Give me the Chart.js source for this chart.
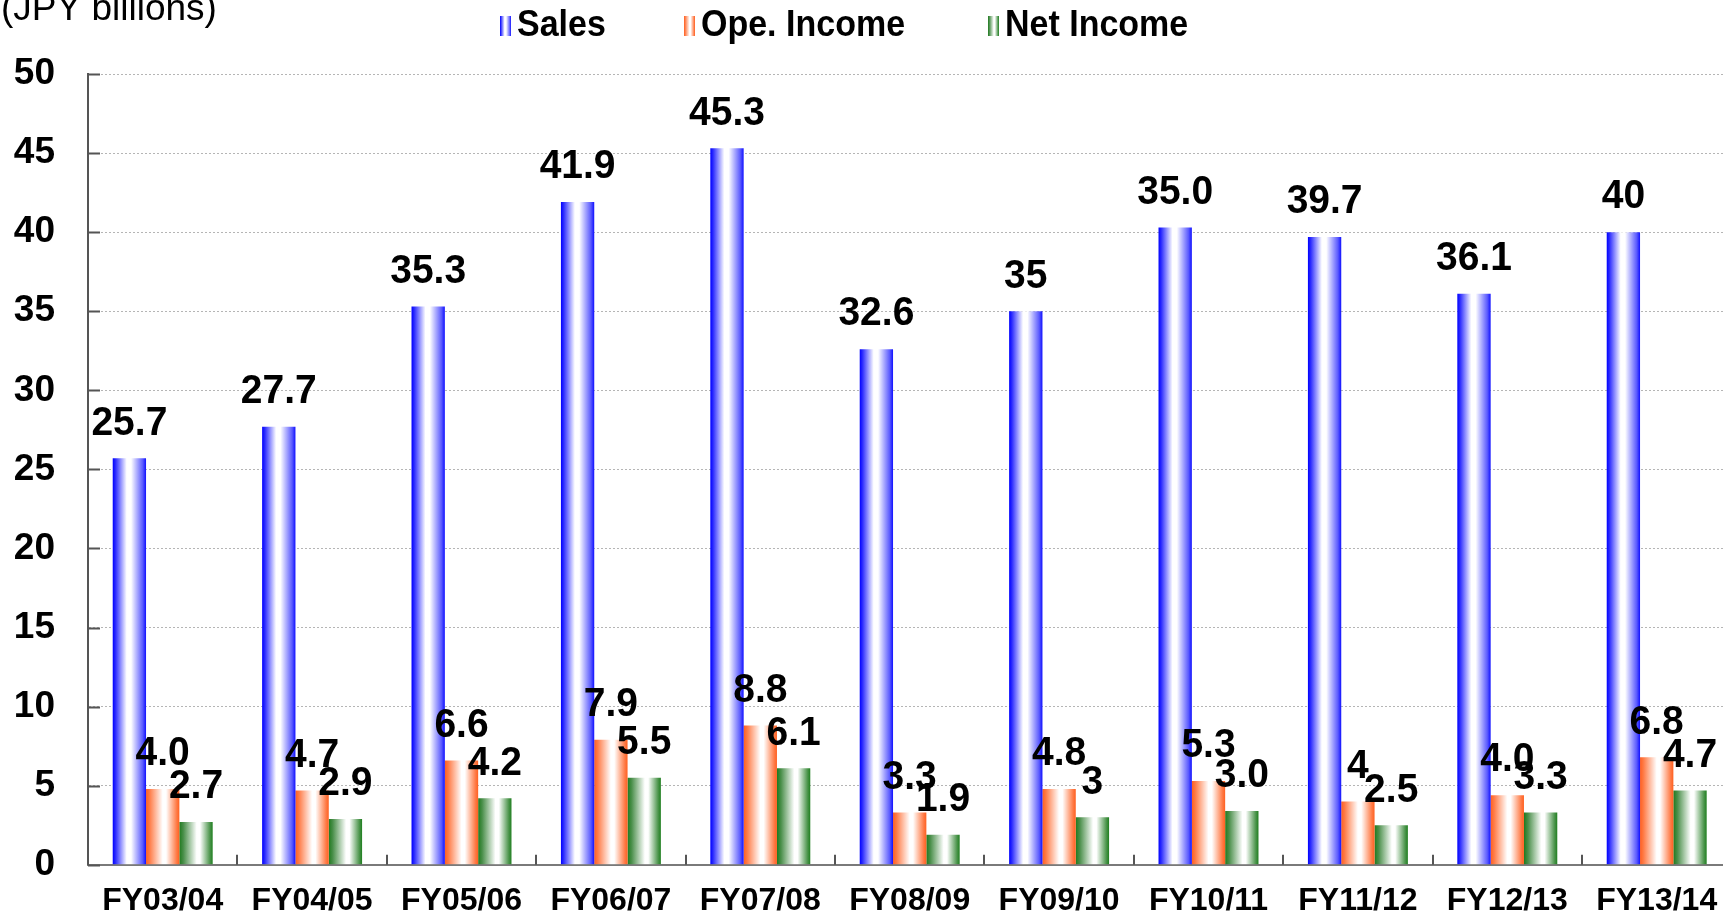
<!DOCTYPE html>
<html>
<head>
<meta charset="utf-8">
<title>Sales and income</title>
<script src="https://cdn.jsdelivr.net/npm/chart.js@4.4.1/dist/chart.umd.min.js"></script>
<style>
  html, body { margin: 0; padding: 0; background: #fff; overflow: hidden; }
  #wrap { width: 1723px; height: 920px; overflow: hidden; }
</style>
</head>
<body>
<div id="wrap"><canvas id="salesChart" width="1800" height="920"></canvas></div>
<script>
const years = ["FY03/04", "FY04/05", "FY05/06", "FY06/07", "FY07/08", "FY08/09", "FY09/10", "FY10/11", "FY11/12", "FY12/13", "FY13/14"];
const sales = [25.7, 27.7, 35.3, 41.9, 45.3, 32.6, 35.0, 40.3, 39.7, 36.1, 40.0];
const opeIncome = [4.8, 4.7, 6.6, 7.9, 8.8, 3.3, 4.8, 5.3, 4.0, 4.4, 6.8];
const netIncome = [2.7, 2.9, 4.2, 5.5, 6.1, 1.9, 3.0, 3.4, 2.5, 3.3, 4.7];
// printed labels (not always equal to the bar height)
const salesLabels = ["25.7", "27.7", "35.3", "41.9", "45.3", "32.6", "35", "35.0", "39.7", "36.1", "40"];
const opeLabels = ["4.0", "4.7", "6.6", "7.9", "8.8", "3.3", "4.8", "5.3", "4", "4.0", "6.8"];
const netLabels = ["2.7", "2.9", "4.2", "5.5", "6.1", "1.9", "3", "3.0", "2.5", "3.3", "4.7"];
const seriesNames = ["Sales", "Ope. Income", "Net Income"];
const yTicks = [0, 5, 10, 15, 20, 25, 30, 35, 40, 45, 50];
const unitText = "(JPY billions)";

const FONT = "'Liberation Sans', Arial, sans-serif";
const catPct = 0.669;

const gradStops = [
  [[0, "#0000ff"], [0.08, "#2a2aff"], [0.42, "#ffffff"], [0.55, "#ffffff"], [0.9, "#5a5aff"], [1, "#1010ff"]],
  [[0, "#ff6020"], [0.1, "#ff7a45"], [0.5, "#ffffff"], [0.6, "#ffffff"], [0.92, "#ff7a45"], [1, "#ff6020"]],
  [[0, "#1f7a1f"], [0.12, "#4a8f4a"], [0.52, "#ffffff"], [0.62, "#ffffff"], [0.92, "#4a944a"], [1, "#1f7f1f"]],
];

function makeGradient(c, x0, x1, di) {
  const g = c.createLinearGradient(x0, 0, x1, 0);
  gradStops[di].forEach(([p, col]) => g.addColorStop(p, col));
  return g;
}

function barFill(context) {
  const chart = context.chart;
  const xs = chart.scales.x;
  if (!xs || !chart.chartArea) return gradStops[context.datasetIndex][0][1];
  const catW = xs.width / years.length;
  const barW = (catW * catPct) / 3;
  const left = xs.getPixelForValue(context.dataIndex) - (catW * catPct) / 2 + context.datasetIndex * barW;
  return makeGradient(chart.ctx, left, left + barW, context.datasetIndex);
}

// draws text slightly stretched vertically, like the original export
function tallText(c, text, x, y, sy) {
  c.save();
  c.translate(x, y);
  c.scale(1, sy);
  c.fillText(text, 0, 0);
  c.restore();
}

const overlay = {
  id: "overlay",
  afterDraw(chart) {
    const c = chart.ctx;
    const area = chart.chartArea;
    const ys = chart.scales.y;
    c.save();

    // inside tick marks
    c.strokeStyle = "#555";
    c.lineWidth = 2;
    c.beginPath();
    yTicks.forEach((v) => {
      const y = Math.round(ys.getPixelForValue(v)) + 0.5;
      c.moveTo(area.left, y);
      c.lineTo(area.left + 12, y);
    });
    const catW = (area.right - area.left) / years.length;
    for (let i = 1; i <= years.length; i++) {
      const x = Math.round(area.left + i * catW);
      c.moveTo(x, area.bottom);
      c.lineTo(x, area.bottom - 10);
    }
    c.stroke();

    // value labels
    c.fillStyle = "#000";
    c.font = "bold 39px " + FONT;
    c.textAlign = "center";
    c.textBaseline = "middle";
    [salesLabels, opeLabels, netLabels].forEach((labels, di) => {
      chart.getDatasetMeta(di).data.forEach((bar, i) => {
        tallText(c, labels[i], bar.x, bar.y - 35, 1.05);
      });
    });

    // unit text, cut at the top like the original
    c.textAlign = "left";
    c.textBaseline = "alphabetic";
    c.font = "37px " + FONT;
    c.fillText(unitText, 1, 20);

    // legend
    const markerX = [500, 684, 988];
    c.font = "bold 34px " + FONT;
    c.textBaseline = "middle";
    seriesNames.forEach((name, di) => {
      const mx = markerX[di];
      c.fillStyle = makeGradient(c, mx, mx + 11, di);
      c.fillRect(mx, 16, 11, 20);
      c.fillStyle = "#000";
      tallText(c, name, mx + 17, 26, 1.1);
    });
    c.restore();
  },
};

new Chart(document.getElementById("salesChart"), {
  type: "bar",
  data: {
    labels: years,
    datasets: [
      { label: seriesNames[0], data: sales, backgroundColor: barFill },
      { label: seriesNames[1], data: opeIncome, backgroundColor: barFill },
      { label: seriesNames[2], data: netIncome, backgroundColor: barFill },
    ],
  },
  options: {
    responsive: false,
    animation: false,
    devicePixelRatio: 1,
    categoryPercentage: catPct,
    barPercentage: 1.0,
    layout: { padding: { top: 74, right: 68.6, bottom: 0, left: 0 } },
    plugins: { legend: { display: false }, tooltip: { enabled: false } },
    scales: {
      x: {
        afterFit: (s) => { s.height = 52.3; },
        grid: { display: false, drawTicks: false },
        border: { display: true, color: "#7a7a7a", width: 2 },
        ticks: {
          color: "#000",
          padding: 17,
          maxRotation: 0,
          autoSkip: false,
          font: { family: FONT, size: 32, weight: "bold" },
        },
      },
      y: {
        min: 0,
        max: 50,
        afterFit: (s) => { s.width = 88; },
        afterBuildTicks: (s) => { s.ticks = yTicks.map((v) => ({ value: v })); },
        grid: { color: "#b5b5b5", lineWidth: 1, drawTicks: false },
        border: { display: true, color: "#555", width: 2, dash: [2, 2] },
        ticks: {
          color: "#000",
          padding: 33,
          font: { family: FONT, size: 37, weight: "bold" },
        },
      },
    },
  },
  plugins: [overlay],
});
</script>
</body>
</html>
